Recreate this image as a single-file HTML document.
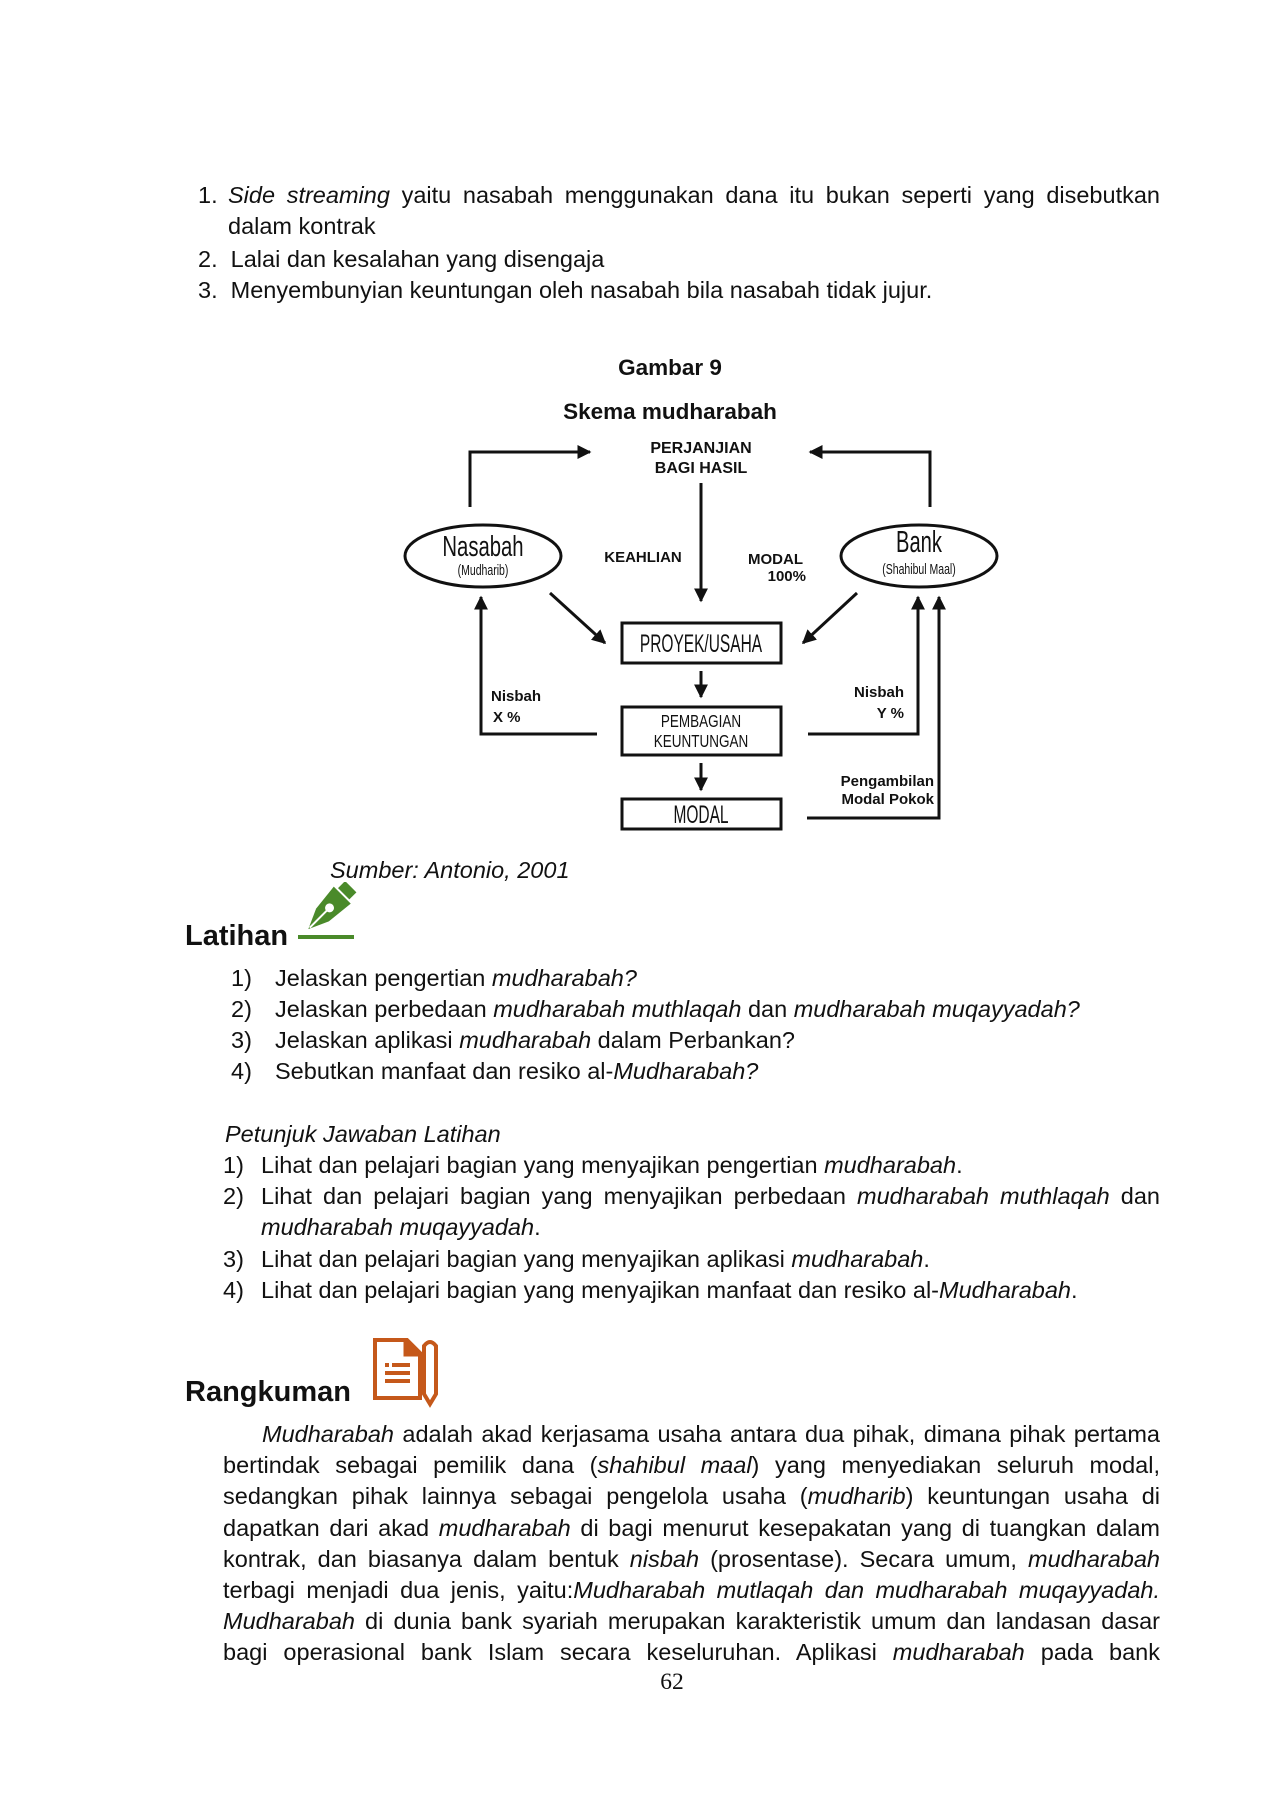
<!DOCTYPE html>
<html><head><meta charset="utf-8">
<style>
body{margin:0;width:1272px;height:1800px;background:#fff;position:relative;font-family:"Liberation Sans",Arial,sans-serif;color:#111;overflow:hidden}
.t{position:absolute;font-size:23.5px;line-height:31px;white-space:nowrap}
.j{position:absolute;font-size:23.5px;line-height:31.2px;text-align:justify}
.b{font-weight:bold}
svg text{font-family:"Liberation Sans",Arial,sans-serif}
</style></head><body>

<div class="t" style="left:198px;top:180px">1.</div>
<div class="j" style="left:228px;top:180px;width:932px;text-align-last:left"><i>Side streaming</i> yaitu nasabah menggunakan dana itu bukan seperti yang disebutkan dalam kontrak</div>
<div class="t" style="left:198px;top:244px">2.&nbsp; Lalai dan kesalahan yang disengaja</div>
<div class="t" style="left:198px;top:275px">3.&nbsp; Menyembunyian keuntungan oleh nasabah bila nasabah tidak jujur.</div>

<div class="t b" style="left:0;width:1340px;text-align:center;top:352px;font-size:22.5px">Gambar 9</div>
<div class="t b" style="left:0;width:1340px;text-align:center;top:396px;font-size:22.5px">Skema mudharabah</div>

<svg style="position:absolute;left:0;top:-5px" width="1272" height="960">
<defs>
<marker id="h" viewBox="0 0 10 10" markerWidth="14" markerHeight="14" refX="9" refY="5" orient="auto" markerUnits="userSpaceOnUse"><path d="M0,0 L10,5 L0,10 z" fill="#111"/></marker></defs>
<g stroke="#111" stroke-width="3" fill="none">
<polyline points="470,512 470,457 590,457" marker-end="url(#h)"/>
<polyline points="930,512 930,457 810,457" marker-end="url(#h)"/>
<line x1="701" y1="488" x2="701" y2="606" marker-end="url(#h)"/>
<ellipse cx="483" cy="561" rx="78" ry="31"/>
<ellipse cx="919" cy="561" rx="78" ry="31"/>
<line x1="550" y1="598" x2="605" y2="648" marker-end="url(#h)"/>
<line x1="857" y1="598" x2="803" y2="648" marker-end="url(#h)"/>
<rect x="622" y="628" width="159" height="40"/>
<line x1="701" y1="676" x2="701" y2="702" marker-end="url(#h)"/>
<rect x="622" y="712" width="159" height="48"/>
<line x1="701" y1="768" x2="701" y2="795" marker-end="url(#h)"/>
<rect x="622" y="804" width="159" height="30"/>
<polyline points="597,739 481,739 481,602" marker-end="url(#h)"/>
<polyline points="808,739 918,739 918,602" marker-end="url(#h)"/>
<polyline points="807,823 939,823 939,602" marker-end="url(#h)"/>
</g>
<g font-weight="bold" font-size="16" fill="#111">
<text x="701" y="458" text-anchor="middle">PERJANJIAN</text>
<text x="701" y="478" text-anchor="middle">BAGI HASIL</text>
<text x="643" y="567" text-anchor="middle" font-size="15">KEAHLIAN</text>
<text x="803" y="569" text-anchor="end" font-size="15">MODAL</text>
<text x="806" y="586" text-anchor="end" font-size="15">100%</text>
<text x="491" y="706" font-size="15">Nisbah</text>
<text x="493" y="727" font-size="15">X %</text>
<text x="904" y="702" text-anchor="end" font-size="15">Nisbah</text>
<text x="904" y="723" text-anchor="end" font-size="15">Y %</text>
<text x="934" y="791" text-anchor="end" font-size="15">Pengambilan</text>
<text x="934" y="809" text-anchor="end" font-size="15">Modal Pokok</text>
</g>
<g fill="#111">
<text x="483" y="561" text-anchor="middle" font-size="29" transform="translate(483,0) scale(0.7,1) translate(-483,0)">Nasabah</text>
<text x="483" y="580" text-anchor="middle" font-size="15" transform="translate(483,0) scale(0.7,1) translate(-483,0)">(Mudharib)</text>
<text x="919" y="557" text-anchor="middle" font-size="31" transform="translate(919,0) scale(0.65,1) translate(-919,0)">Bank</text>
<text x="919" y="579" text-anchor="middle" font-size="15" transform="translate(919,0) scale(0.7,1) translate(-919,0)">(Shahibul Maal)</text>
<text x="701" y="657" text-anchor="middle" font-size="25" transform="translate(701,0) scale(0.62,1) translate(-701,0)">PROYEK/USAHA</text>
<text x="701" y="732" text-anchor="middle" font-size="18" transform="translate(701,0) scale(0.75,1) translate(-701,0)">PEMBAGIAN</text>
<text x="701" y="752" text-anchor="middle" font-size="18" transform="translate(701,0) scale(0.75,1) translate(-701,0)">KEUNTUNGAN</text>
<text x="701" y="828" text-anchor="middle" font-size="25" transform="translate(701,0) scale(0.62,1) translate(-701,0)">MODAL</text>
</g>
</svg>

<div class="t" style="left:330px;top:855px"><i>Sumber: Antonio, 2001</i></div>
<div class="t b" style="left:185px;top:918px;font-size:29px;line-height:36px">Latihan</div>
<svg style="position:absolute;left:296px;top:882px" width="62" height="60">
<rect x="2" y="53" width="56" height="4" fill="#4a8a2a"/>
<g transform="rotate(45 30 28)" fill="#4a8a2a">
<rect x="23" y="-6" width="16" height="10"/>
<path d="M19,6 L43,6 L40,34 L31,54 L22,34 Z"/>
<circle cx="31" cy="24" r="4.5" fill="#fff"/>
<rect x="30" y="28" width="2" height="24" fill="#fff"/>
</g>
</svg>

<div class="t" style="left:231px;top:963px">1)</div><div class="t" style="left:275px;top:963px">Jelaskan pengertian <i>mudharabah?</i></div>
<div class="t" style="left:231px;top:994px">2)</div><div class="t" style="left:275px;top:994px">Jelaskan perbedaan <i>mudharabah muthlaqah</i> dan <i>mudharabah muqayyadah?</i></div>
<div class="t" style="left:231px;top:1025px">3)</div><div class="t" style="left:275px;top:1025px">Jelaskan aplikasi <i>mudharabah</i> dalam Perbankan?</div>
<div class="t" style="left:231px;top:1056px">4)</div><div class="t" style="left:275px;top:1056px">Sebutkan manfaat dan resiko al-<i>Mudharabah?</i></div>

<div class="t" style="left:225px;top:1119px"><i>Petunjuk Jawaban Latihan</i></div>
<div class="t" style="left:223px;top:1150px">1)</div><div class="t" style="left:261px;top:1150px">Lihat dan pelajari bagian yang menyajikan pengertian <i>mudharabah</i>.</div>
<div class="t" style="left:223px;top:1181px">2)</div><div class="j" style="left:261px;top:1181px;width:899px;text-align-last:left">Lihat dan pelajari bagian yang menyajikan perbedaan <i>mudharabah muthlaqah</i> dan <i>mudharabah muqayyadah</i>.</div>
<div class="t" style="left:223px;top:1244px">3)</div><div class="t" style="left:261px;top:1244px">Lihat dan pelajari bagian yang menyajikan aplikasi <i>mudharabah</i>.</div>
<div class="t" style="left:223px;top:1275px">4)</div><div class="t" style="left:261px;top:1275px">Lihat dan pelajari bagian yang menyajikan manfaat dan resiko al-<i>Mudharabah</i>.</div>

<div class="t b" style="left:185px;top:1374px;font-size:29px;line-height:36px">Rangkuman</div>
<svg style="position:absolute;left:372px;top:1336px" width="70" height="72">
<path d="M3,4 L35,4 L48,17 L48,62 L3,62 Z" fill="none" stroke="#c5581a" stroke-width="4"/>
<path d="M33,4 L33,19 L48,19" fill="#c5581a" stroke="#c5581a" stroke-width="3"/>
<rect x="13" y="27" width="4" height="4" fill="#c5581a"/><rect x="20" y="27" width="18" height="4" fill="#c5581a"/>
<rect x="13" y="35" width="25" height="4" fill="#c5581a"/><rect x="13" y="43" width="25" height="4" fill="#c5581a"/>
<path d="M52,10 L52,58 L58,68 L64,58 L64,10 Q58,2 52,10 Z" fill="none" stroke="#c5581a" stroke-width="4"/>
</svg>

<div class="j" style="left:223px;top:1419px;width:937px;text-indent:39px;text-align-last:justify"><i>Mudharabah</i> adalah akad kerjasama usaha antara dua pihak, dimana pihak pertama bertindak sebagai pemilik dana (<i>shahibul maal</i>) yang menyediakan seluruh modal, sedangkan pihak lainnya sebagai pengelola usaha (<i>mudharib</i>) keuntungan usaha di dapatkan dari akad <i>mudharabah</i> di bagi menurut kesepakatan yang di tuangkan dalam kontrak, dan biasanya dalam bentuk <i>nisbah</i> (prosentase). Secara umum, <i>mudharabah</i> terbagi menjadi dua jenis, yaitu:<i>Mudharabah mutlaqah dan mudharabah muqayyadah. Mudharabah</i> di dunia bank syariah merupakan karakteristik umum dan landasan dasar bagi operasional bank Islam secara keseluruhan. Aplikasi <i>mudharabah</i> pada bank</div>

<div class="t" style="left:0;width:1344px;text-align:center;top:1667px;font-family:'Liberation Serif',serif">62</div>
</body></html>
